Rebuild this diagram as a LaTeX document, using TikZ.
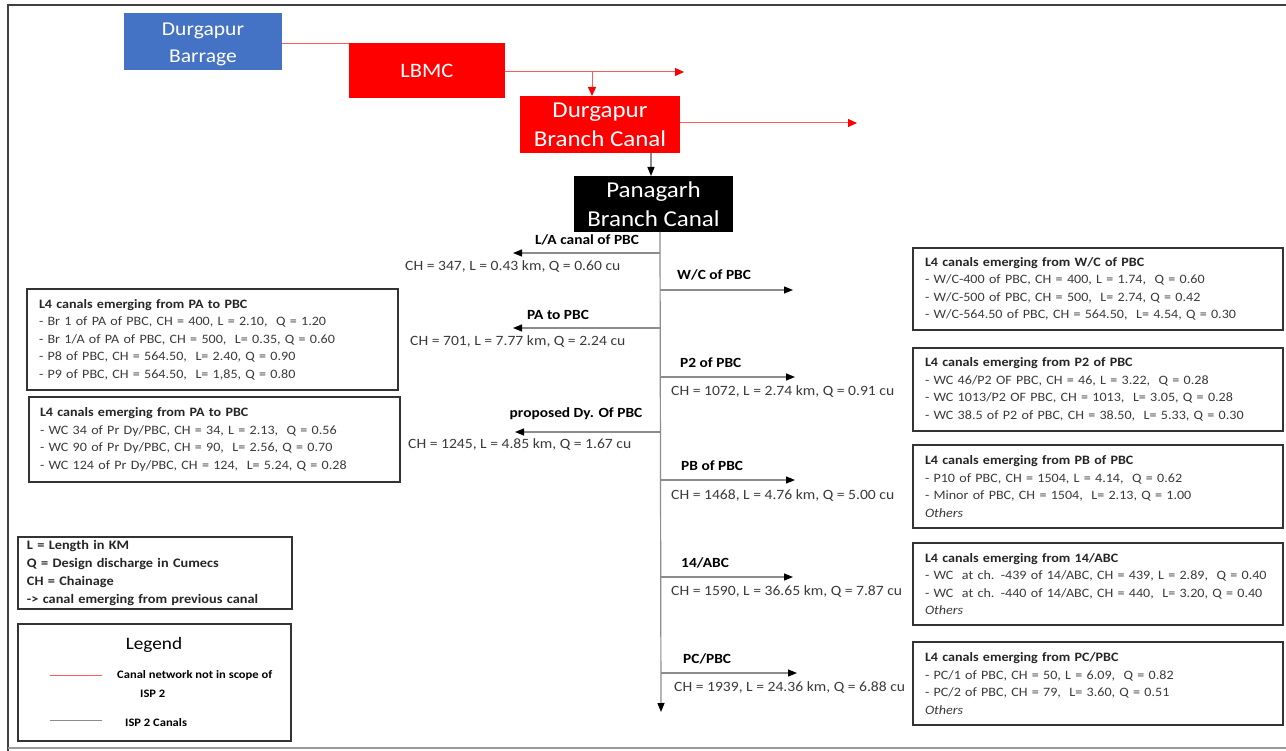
\documentclass[tikz,border=0pt]{standalone}
\usepackage{fontspec}
\setmainfont{Carlito}[FakeStretch=1.1]
\usetikzlibrary{arrows.meta}

\definecolor{barrageblue}{HTML}{4472C4}
\definecolor{canalred}{HTML}{FF0000}
\definecolor{redline}{HTML}{FF5A5A}
\definecolor{trunkgray}{HTML}{8C8C8C}
\definecolor{txtgray}{HTML}{3A3A3A}

% font sizes
\newcommand\fsbar{\fontsize{19.6}{27}\selectfont}
\newcommand\fslb{\fontsize{20.5}{27}\selectfont}
\newcommand\fsbig{\fontsize{22.7}{29}\selectfont}
\newcommand\fslbl{\fontsize{14}{17}\selectfont\bfseries}
\newcommand\fsdata{\fontsize{14.2}{17}\selectfont}
\newcommand\fsbox{\fontsize{12.8}{17.5}\selectfont}
\newcommand\fsnote{\fontsize{13}{17.7}\selectfont\bfseries}
\newcommand\fsleg{\fontsize{11.4}{14}\selectfont\bfseries}

\tikzset{
  headbox/.style={fill=#1, text=white, align=center, inner sep=0pt, outer sep=0pt},
  redflow/.style={draw=redline, line width=1pt, -{Triangle[length=9pt,width=8pt,color=canalred]}},
  redplain/.style={draw=redline, line width=1pt},
  grayplain/.style={draw=trunkgray, line width=1pt},
  branch/.style={draw=trunkgray, line width=1.2pt, -{Triangle[length=9pt,width=7pt,color=black]}},
  lbl/.style={font=\fslbl, inner sep=0pt, anchor=mid west},
  lblc/.style={font=\fslbl, inner sep=0pt, anchor=mid},
  data/.style={font=\fsdata, text=txtgray, inner sep=0pt, anchor=mid west},
  infobox/.style={draw=black!80, line width=1.3pt, text width=#1, align=left,
    inner xsep=12pt, inner ysep=0pt, outer sep=0pt, anchor=north west,
    font=\fsbox, text=txtgray}
}
\newcommand\hdr[1]{{\bfseries\color{black!85}#1}}

\begin{document}
\begin{tikzpicture}[x=1pt,y=-1pt]
\useasboundingbox (0,0) rectangle (1286,751);

% outer frame
\draw[black!75, line width=2pt] (8,751) -- (8,5) -- (1286,5);
\draw[gray!80, line width=1.5pt] (8,748) -- (1286,748);

% ---- upstream canals ----
\node[headbox=barrageblue, minimum width=158pt, minimum height=57pt]
  (barrage) at (203,41.5) {};
\node[text=white, align=center, inner sep=0pt, font=\fsbar]
  (barrageT) at (203,44) {Durgapur\\Barrage};
\node[headbox=canalred, minimum width=156pt, minimum height=55pt, font=\fslb]
  (lbmc) at (427,70.5) {LBMC};
\node[headbox=canalred, minimum width=160pt, minimum height=57pt, font=\fsbig]
  (dbc) at (600,124.5) {Durgapur\\Branch Canal};
\node[headbox=black, minimum width=159pt, minimum height=56pt, font=\fsbig]
  (pbc) at (653.5,204) {Panagarh\\Branch Canal};

\coordinate (bar0) at (barrage.east |- 0,44);
\coordinate (bar1) at (lbmc.west |- 0,44);
\draw[redplain] (bar0) -- (bar1);

\coordinate (lb0) at (lbmc.east |- 0,72);
\coordinate (lb1) at (684,72);
\coordinate (lbj) at (592,72);
\draw[redflow] (lb0) -- (lb1);
\draw[redflow] (lbj) -- (lbj |- dbc.north);

\coordinate (db0) at (dbc.east |- 0,123);
\coordinate (db1) at (857,123);
\draw[redflow] (db0) -- (db1);

\coordinate (dbp) at (651,0);
\draw[branch] (dbc.south -| dbp) -- (pbc.north -| dbp);

% ---- Panagarh trunk ----
\coordinate (t0) at (660,232);
\coordinate (t1) at (661,712);
\draw[branch] (t0) -- (t1);

% left branches
\coordinate (la0) at (660,253);  \coordinate (la1) at (513,253);
\coordinate (pa0) at (660,328);  \coordinate (pa1) at (513,328);
\coordinate (dy0) at (661,432);  \coordinate (dy1) at (515,432);
\draw[branch] (la0) -- (la1);
\draw[branch] (pa0) -- (pa1);
\draw[branch] (dy0) -- (dy1);

\node[lblc] (laL) at (587,242) {L/A canal of PBC};
\node[data] (laD) at (405,268) {CH = 347, L = 0.43 km, Q = 0.60 cu};
\node[lblc] (paL) at (558,317) {PA to PBC};
\node[data] (paD) at (410,343) {CH = 701, L = 7.77 km, Q = 2.24 cu};
\node[lblc] (dyL) at (576,415) {proposed Dy. Of PBC};
\node[data] (dyD) at (408,446) {CH = 1245, L = 4.85 km, Q = 1.67 cu};

% right branches
\coordinate (wc0) at (660,290);  \coordinate (wc1) at (793,290);
\coordinate (p20) at (660,377);  \coordinate (p21) at (795,377);
\coordinate (pb0) at (660,480);  \coordinate (pb1) at (795,480);
\coordinate (ab0) at (661,577);  \coordinate (ab1) at (793,577);
\coordinate (pc0) at (661,673);  \coordinate (pc1) at (797,673);
\draw[branch] (wc0) -- (wc1);
\draw[branch] (p20) -- (p21);
\draw[branch] (pb0) -- (pb1);
\draw[branch] (ab0) -- (ab1);
\draw[branch] (pc0) -- (pc1);

\node[lbl] (wcL) at (677,277) {W/C of PBC};
\node[lbl] (p2L) at (680,365) {P2 of PBC};
\node[data] (p2D) at (671,393) {CH = 1072, L = 2.74 km, Q = 0.91 cu};
\node[lbl] (pbL) at (681,468) {PB of PBC};
\node[data] (pbD) at (671,497) {CH = 1468, L = 4.76 km, Q = 5.00 cu};
\node[lbl] (abL) at (681,565) {14/ABC};
\node[data] (abD) at (671,593) {CH = 1590, L = 36.65 km, Q = 7.87 cu};
\node[lbl] (pcL) at (683,661) {PC/PBC};
\node[data] (pcD) at (674,689) {CH = 1939, L = 24.36 km, Q = 6.88 cu};

% ---- L4 canal boxes, right ----
\node[infobox=346pt, minimum height=82pt] (bwc) at (913,248)
 {\hdr{L4 canals emerging from W/C of PBC}\\
  - W/C-400 of PBC, CH = 400, L = 1.74,~ Q = 0.60\\
  - W/C-500 of PBC, CH = 500,~ L= 2.74, Q = 0.42\\
  - W/C-564.50 of PBC, CH = 564.50,~ L= 4.54, Q = 0.30};
\node[infobox=346pt, minimum height=83pt] (bp2) at (913,348)
 {\hdr{L4 canals emerging from P2 of PBC}\\
  - WC 46/P2 OF PBC, CH = 46, L = 3.22,~ Q = 0.28\\
  - WC 1013/P2 OF PBC, CH = 1013,~ L= 3.05, Q = 0.28\\
  - WC 38.5 of P2 of PBC, CH = 38.50,~ L= 5.33, Q = 0.30};
\node[infobox=346pt, minimum height=83pt] (bpb) at (913,445)
 {\hdr{L4 canals emerging from PB of PBC}\\
  - P10 of PBC, CH = 1504, L = 4.14,~ Q = 0.62\\
  - Minor of PBC, CH = 1504,~ L= 2.13, Q = 1.00\\
  \textit{Others}};
\node[infobox=346pt, minimum height=82pt] (bab) at (913,543)
 {\hdr{L4 canals emerging from 14/ABC}\\
  \mbox{- WC~ at ch. -439 of 14/ABC, CH = 439, L = 2.89,~ Q = 0.40}\\
  \mbox{- WC~ at ch. -440 of 14/ABC, CH = 440,~ L= 3.20, Q = 0.40}\\
  \textit{Others}};
\node[infobox=346pt, minimum height=83pt] (bpc) at (913,642)
 {\hdr{L4 canals emerging from PC/PBC}\\
  - PC/1 of PBC, CH = 50, L = 6.09,~ Q = 0.82\\
  - PC/2 of PBC, CH = 79,~ L= 3.60, Q = 0.51\\
  \textit{Others}};

% ---- L4 canal boxes, left ----
\node[infobox=347pt, minimum height=101pt] (bpa) at (27,289)
 {\hdr{L4 canals emerging from PA to PBC}\\
  - Br 1 of PA of PBC, CH = 400, L = 2.10,~ Q = 1.20\\
  - Br 1/A of PA of PBC, CH = 500,~ L= 0.35, Q = 0.60\\
  - P8 of PBC, CH = 564.50,~ L= 2.40, Q = 0.90\\
  - P9 of PBC, CH = 564.50,~ L= 1,85, Q = 0.80};
\node[infobox=349pt, minimum height=85pt, inner xsep=11pt] (bdy) at (29,397)
 {\hdr{L4 canals emerging from PA to PBC}\\
  - WC 34 of Pr Dy/PBC, CH = 34, L = 2.13,~ Q = 0.56\\
  - WC 90 of Pr Dy/PBC, CH = 90,~ L= 2.56, Q = 0.70\\
  - WC 124 of Pr Dy/PBC, CH = 124,~ L= 5.24, Q = 0.28};

% ---- abbreviations ----
\node[infobox=256pt, minimum height=72pt, inner xsep=9pt, font=\fsnote, text=black!85]
  (notes) at (18,537)
 {L = Length in KM\\
  Q = Design discharge in Cumecs\\
  CH = Chainage\\
  -> canal emerging from previous canal};

% ---- legend ----
\node[draw=black!80, line width=1.3pt, anchor=north west, minimum width=273pt,
  minimum height=117pt, inner sep=0pt, outer sep=0pt] (legbox) at (18,624) {};
\node[font=\fontsize{17.5}{20}\selectfont, inner sep=0pt] (legT) at (154,645) {Legend};
\coordinate (lr0) at (50,675);  \coordinate (lr1) at (102,675);
\coordinate (lg0) at (50,720);  \coordinate (lg1) at (102,720);
\draw[redplain] (lr0) -- (lr1);
\draw[grayplain] (lg0) -- (lg1);
\node[font=\fsleg, inner sep=0pt, anchor=mid west] (legR1) at (117,676) {Canal network not in scope of};
\node[font=\fsleg, inner sep=0pt, anchor=mid west] (legR2) at (140,695) {ISP 2};
\node[font=\fsleg, inner sep=0pt, anchor=mid west] (legG) at (125,724) {ISP 2 Canals};
\end{tikzpicture}
\end{document}
